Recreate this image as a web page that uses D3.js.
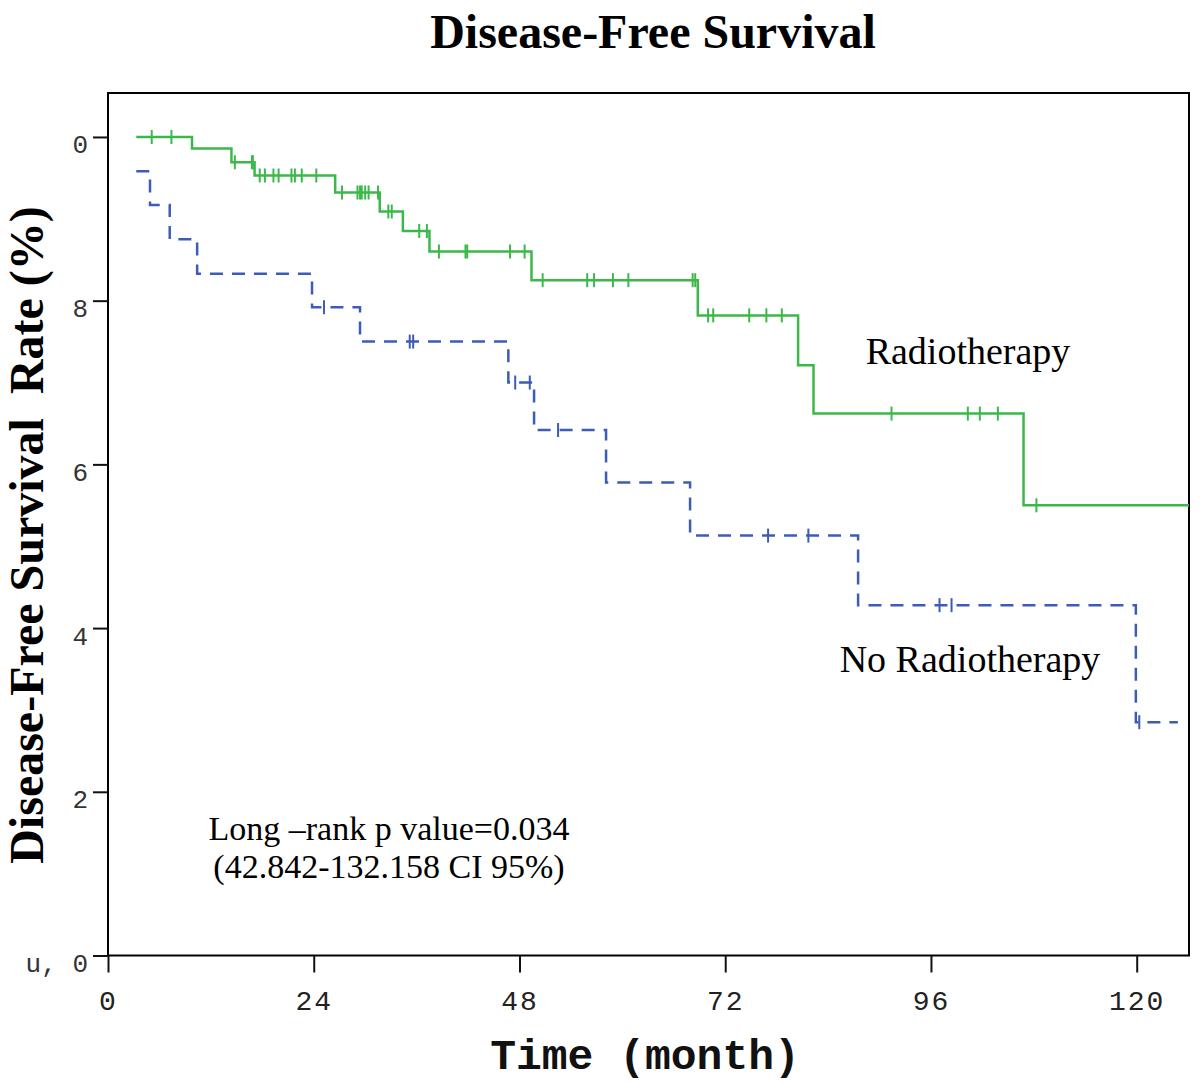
<!DOCTYPE html>
<html>
<head>
<meta charset="utf-8">
<script src="https://cdn.jsdelivr.net/npm/d3@7/dist/d3.min.js"></script>
<style>
  html, body { margin: 0; padding: 0; background: #fff; }
  svg { display: block; }
  text { white-space: pre; }
</style>
</head>
<body>
<svg id="chart" width="1200" height="1083"></svg>
<script>
// ---------- data ----------
const xTickValues = [0, 24, 48, 72, 96, 120];
const xTickLabels = ["0", "24", "48", "72", "96", "120"];
const yTickValues = [0, 0.2, 0.4, 0.6, 0.8, 1.0];
const yTickLabels = ["u, 0", "2", "4", "6", "8", "0"];

// Radiotherapy (green, solid): step start times and survival after the step
const radioTimes = [3.3, 9.8, 14.4, 17.1, 26.5, 31.7, 34.4, 37.5, 49.4, 68.8, 80.5, 82.3, 106.8];
const radioSurv  = [1.0, 0.986, 0.969, 0.953, 0.932, 0.909, 0.885, 0.860, 0.825, 0.782, 0.721, 0.662, 0.550];
const radioEnd = 126.1;
const radioCensorTimes = [5.1, 7.4, 14.8, 16.8, 16.9, 17.7, 18.3, 19.3, 19.9, 21.4, 21.8, 22.6, 24.3,
  27.3, 29.1, 29.4, 29.6, 30.0, 30.4, 31.5, 32.7, 33.1, 36.3, 37.2, 38.6, 41.7, 41.9, 46.9, 48.6,
  50.7, 55.9, 56.7, 58.9, 60.7, 68.2, 68.5, 70.0, 70.6, 74.8, 76.8, 78.6,
  91.4, 100.3, 101.7, 103.8, 108.3];
const radioCensorSurv = [1.0, 1.0, 0.969, 0.969, 0.969, 0.953, 0.953, 0.953, 0.953, 0.953, 0.953, 0.953, 0.953,
  0.932, 0.932, 0.932, 0.932, 0.932, 0.932, 0.932, 0.909, 0.909, 0.885, 0.885, 0.860, 0.860, 0.860, 0.860, 0.860,
  0.825, 0.825, 0.825, 0.825, 0.825, 0.825, 0.825, 0.782, 0.782, 0.782, 0.782, 0.782,
  0.662, 0.662, 0.662, 0.662, 0.550];

// No Radiotherapy (blue, dashed)
const noRadioTimes = [3.3, 4.9, 7.2, 10.4, 23.8, 29.4, 46.7, 49.7, 58.1, 67.9, 87.5, 119.9];
const noRadioSurv  = [0.958, 0.917, 0.875, 0.833, 0.792, 0.750, 0.700, 0.642, 0.578, 0.513, 0.428, 0.285];
const noRadioEnd = 124.8;
const noRadioCensorTimes = [25.2, 35.2, 35.6, 47.5, 49.2, 52.5, 77.0, 81.7, 97.0, 98.4, 120.3];
const noRadioCensorSurv  = [0.792, 0.750, 0.750, 0.700, 0.700, 0.642, 0.513, 0.513, 0.428, 0.428, 0.285];

// ---------- layout ----------
const svg = d3.select("#chart");
const plotLeft = 108, plotRight = 1189, plotTop = 93, plotBottom = 955.5;

const x = d3.scaleLinear().domain([0, 126.1]).range([plotLeft, plotRight]);
const y = d3.scaleLinear().domain([0, 1.0537]).range([plotBottom, plotTop]);

const GREEN = "#3cb84b";
const BLUE = "#3c5cb6";
const serif = "'Liberation Serif', 'Times New Roman', serif";
const mono = "'Liberation Mono', 'Courier New', monospace";

// title
svg.append("text")
  .attr("x", 653).attr("y", 48)
  .attr("text-anchor", "middle")
  .attr("font-family", serif)
  .attr("font-weight", "bold").attr("font-size", 48)
  .attr("fill", "#000")
  .text("Disease-Free Survival");

// y label
svg.append("text")
  .attr("transform", "translate(43,535) rotate(-90)")
  .attr("text-anchor", "middle")
  .attr("font-family", serif)
  .attr("font-weight", "bold").attr("font-size", 48)
  .attr("fill", "#000")
  .text("Disease-Free Survival  Rate (%)");

// x label
svg.append("text")
  .attr("x", 645).attr("y", 1069)
  .attr("text-anchor", "middle")
  .attr("font-family", mono)
  .attr("font-weight", "bold").attr("font-size", 43)
  .attr("fill", "#111")
  .text("Time (month)");

// frame
svg.append("rect")
  .attr("x", plotLeft).attr("y", plotTop)
  .attr("width", plotRight - plotLeft).attr("height", plotBottom - plotTop)
  .attr("fill", "none").attr("stroke", "#000").attr("stroke-width", 2);

// axes
const xAxis = d3.axisBottom(x)
  .tickValues(xTickValues)
  .tickFormat((d, i) => xTickLabels[i])
  .tickSize(17).tickSizeOuter(0);
const gx = svg.append("g").attr("transform", `translate(0,${plotBottom})`).call(xAxis);
gx.select(".domain").remove();
gx.selectAll(".tick line").attr("stroke", "#111").attr("stroke-width", 2);
gx.selectAll(".tick text")
  .attr("y", 54).attr("dy", 0)
  .attr("font-family", mono)
  .attr("font-size", 28).attr("fill", "#222")
  .attr("letter-spacing", 2);

const yAxis = d3.axisLeft(y)
  .tickValues(yTickValues)
  .tickFormat((d, i) => yTickLabels[i])
  .tickSize(15).tickSizeOuter(0);
const gy = svg.append("g").attr("transform", `translate(${plotLeft},0)`).call(yAxis);
gy.select(".domain").remove();
gy.selectAll(".tick line").attr("stroke", "#111").attr("stroke-width", 2);
gy.selectAll(".tick text")
  .attr("x", -20).attr("y", 16).attr("dy", 0)
  .attr("text-anchor", "end")
  .attr("font-family", mono)
  .attr("font-size", 26).attr("fill", "#333");

// clip
svg.append("clipPath").attr("id", "plotclip")
  .append("rect").attr("x", plotLeft).attr("y", plotTop)
  .attr("width", plotRight - plotLeft).attr("height", plotBottom - plotTop);

const plot = svg.append("g").attr("clip-path", "url(#plotclip)");

const stepLine = d3.line()
  .x(d => x(d[0])).y(d => y(d[1]))
  .curve(d3.curveStepAfter);

function drawSeries(times, surv, endT, cTimes, cSurv, color, dash) {
  const pts = times.map((t, i) => [t, surv[i]]);
  pts.push([endT, surv[surv.length - 1]]);
  plot.append("path")
    .attr("d", stepLine(pts))
    .attr("fill", "none")
    .attr("stroke", color)
    .attr("stroke-width", 2.5)
    .attr("stroke-dasharray", dash || null)
    .attr("stroke-linejoin", "miter");
  plot.append("g").selectAll("line")
    .data(cTimes.map((t, i) => [t, cSurv[i]]))
    .join("line")
    .attr("x1", d => x(d[0])).attr("x2", d => x(d[0]))
    .attr("y1", d => y(d[1]) - 7).attr("y2", d => y(d[1]) + 7)
    .attr("stroke", color).attr("stroke-width", 2);
}

drawSeries(radioTimes, radioSurv, radioEnd, radioCensorTimes, radioCensorSurv, GREEN, null);
drawSeries(noRadioTimes, noRadioSurv, noRadioEnd, noRadioCensorTimes, noRadioCensorSurv, BLUE, "13,9");

// series labels
svg.append("text").attr("x", 968).attr("y", 364)
  .attr("text-anchor", "middle").attr("font-family", serif).attr("font-size", 38)
  .attr("fill", "#000").text("Radiotherapy");
svg.append("text").attr("x", 970).attr("y", 672)
  .attr("text-anchor", "middle").attr("font-family", serif).attr("font-size", 38)
  .attr("fill", "#000").text("No Radiotherapy");

// annotation
svg.append("text").attr("x", 389).attr("y", 840)
  .attr("text-anchor", "middle").attr("font-family", serif).attr("font-size", 34)
  .attr("fill", "#000").text("Long –rank p value=0.034");
svg.append("text").attr("x", 389).attr("y", 878)
  .attr("text-anchor", "middle").attr("font-family", serif).attr("font-size", 34)
  .attr("fill", "#000").text("(42.842-132.158 CI 95%)");
</script>
</body>
</html>
